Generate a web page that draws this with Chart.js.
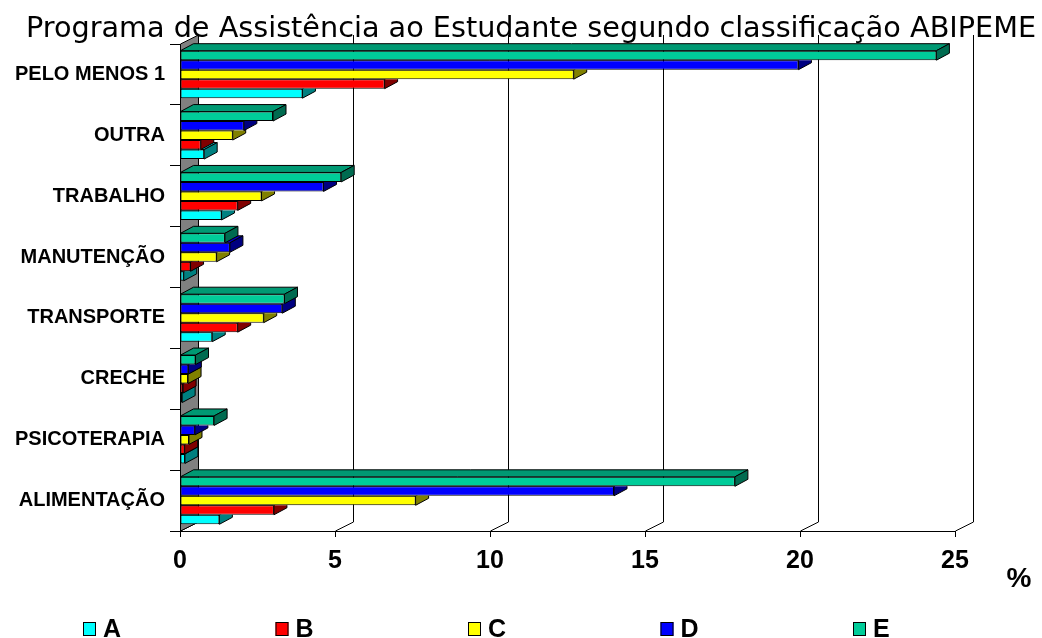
<!DOCTYPE html>
<html>
<head>
<meta charset="utf-8">
<script src="https://cdn.jsdelivr.net/npm/chart.js@4.4.1/dist/chart.umd.min.js"></script>
<style>
  html, body { margin: 0; padding: 0; background: #fff; }
</style>
</head>
<body>
<canvas id="abipemeChart" width="1042" height="638"></canvas>
<script>
// categories from top to bottom, as in the picture
const categories = ['PELO MENOS 1', 'OUTRA', 'TRABALHO', 'MANUTENÇÃO', 'TRANSPORTE', 'CRECHE', 'PSICOTERAPIA', 'ALIMENTAÇÃO'];
const seriesNames = ['A', 'B', 'C', 'D', 'E'];
const valuesA = [3.95, 0.78, 1.34, 0.12, 1.04, 0.07, 0.16, 1.27];
const valuesB = [6.6, 0.67, 1.86, 0.34, 1.86, 0.10, 0.15, 3.03];
const valuesC = [12.7, 1.7, 2.63, 1.18, 2.7, 0.26, 0.29, 7.6];
const valuesD = [19.95, 2.06, 4.63, 1.61, 3.3, 0.27, 0.48, 14.0];
const valuesE = [24.4, 3.0, 5.2, 1.45, 3.37, 0.5, 1.1, 17.9];
const xTicks = [0, 5, 10, 15, 20, 25];
const chartTitle = 'Programa de Assistência ao Estudante segundo classificação ABIPEME';

const frontColors = ['#00FFFF', '#FF0000', '#FFFF00', '#0000FF', '#00CC99'];
const topColors   = ['#00BFBF', '#BF0000', '#BFBF00', '#0000BF', '#009973'];
const sideColors  = ['#008080', '#800000', '#808000', '#000080', '#006B50'];

const seriesValues = [valuesA, valuesB, valuesC, valuesD, valuesE];

// dataset 0 is drawn at the top of each group, so E goes first
const datasets = [];
for (let k = seriesNames.length - 1; k >= 0; k--) {
  datasets.push({
    label: seriesNames[k],
    data: seriesValues[k],
    backgroundColor: frontColors[k],
    borderColor: '#000',
    borderWidth: 1,
    borderSkipped: false,
    topColor: topColors[k],
    sideColor: sideColors[k]
  });
}

const BAR_DX = 13, BAR_DY = -7;    // depth of a bar
const WALL_DX = 18, WALL_DY = -9;  // depth of the box

function poly(ctx, pts, fill) {
  ctx.beginPath();
  ctx.moveTo(pts[0][0], pts[0][1]);
  for (let i = 1; i < pts.length; i++) ctx.lineTo(pts[i][0], pts[i][1]);
  ctx.closePath();
  if (fill) { ctx.fillStyle = fill; ctx.fill(); }
  ctx.strokeStyle = '#000';
  ctx.lineWidth = 1;
  ctx.stroke();
}

const box3d = {
  id: 'box3d',
  beforeDatasetsDraw(chart) {
    const ctx = chart.ctx;
    const a = chart.chartArea;
    const xs = chart.scales.x;
    ctx.save();
    // back wall grid + bottom wall diagonals
    ctx.strokeStyle = '#000';
    ctx.lineWidth = 1;
    xTicks.forEach(v => {
      const px = Math.round(xs.getPixelForValue(v)) + 0.5;
      ctx.beginPath();
      ctx.moveTo(px, a.bottom);
      ctx.lineTo(px + WALL_DX, a.bottom + WALL_DY);
      ctx.lineTo(px + WALL_DX, a.top + WALL_DY);
      ctx.stroke();
    });
    // grey floor on the left
    const l = a.left + 0.5;
    poly(ctx, [[l, a.top], [l, a.bottom], [l + WALL_DX, a.bottom + WALL_DY], [l + WALL_DX, a.top + WALL_DY]], '#808080');
    ctx.restore();
  },
  afterDatasetsDraw(chart) {
    const ctx = chart.ctx;
    const n = chart.data.datasets.length;
    const metas = chart.data.datasets.map((d, i) => chart.getDatasetMeta(i));
    for (let j = 0; j < categories.length; j++) {
      for (let i = n - 1; i >= 0; i--) {
        const ds = chart.data.datasets[i];
        const bar = metas[i].data[j].getProps(['x', 'y', 'base', 'height'], true);
        const top = bar.y - bar.height / 2;
        const bot = bar.y + bar.height / 2;
        ctx.save();
        if (i > 0) {
          // hide what the bar just above covers
          const up = metas[i - 1].data[j].getProps(['x', 'y', 'base', 'height'], true);
          ctx.beginPath();
          ctx.rect(0, 0, chart.width, chart.height);
          ctx.rect(up.base, up.y - up.height / 2, up.x - up.base, up.height);
          ctx.clip('evenodd');
        }
        poly(ctx, [[bar.base, top], [bar.x, top], [bar.x + BAR_DX, top + BAR_DY], [bar.base + BAR_DX, top + BAR_DY]], ds.topColor);
        poly(ctx, [[bar.x, top], [bar.x, bot], [bar.x + BAR_DX, bot + BAR_DY], [bar.x + BAR_DX, top + BAR_DY]], ds.sideColor);
        ctx.restore();
      }
    }
  },
  afterDraw(chart) {
    const ctx = chart.ctx;
    const a = chart.chartArea;
    ctx.save();
    ctx.fillStyle = '#000';
    ctx.textBaseline = 'alphabetic';

    // title sits over the top of the plot, about 1012px wide
    ctx.font = '30px "DejaVu Sans", Verdana, sans-serif';
    const w30 = ctx.measureText(chartTitle).width;
    const size = Math.min(40, 30 * 1012 / w30);
    ctx.font = size.toFixed(1) + 'px "DejaVu Sans", Verdana, sans-serif';
    ctx.textAlign = 'center';
    ctx.fillText(chartTitle, 531, 37);

    ctx.font = 'bold 28px "Liberation Sans", Arial, sans-serif';
    ctx.fillText('%', a.right + 64, a.bottom + 56);

    // legend, A to E from left to right
    ctx.font = 'bold 25px "Liberation Sans", Arial, sans-serif';
    ctx.textAlign = 'left';
    const x0 = a.left - 97;
    const step = 192.5;
    const yBox = chart.height - 16;
    for (let k = 0; k < seriesNames.length; k++) {
      const x = x0 + k * step;
      ctx.fillStyle = frontColors[k];
      ctx.fillRect(x, yBox, 13, 14);
      ctx.strokeStyle = '#000';
      ctx.lineWidth = 1;
      ctx.strokeRect(x + 0.5, yBox + 0.5, 12, 13);
      ctx.fillStyle = '#000';
      ctx.fillText(seriesNames[k], x + 20, chart.height - 1);
    }
    ctx.restore();
  }
};

const ctx = document.getElementById('abipemeChart').getContext('2d');

new Chart(ctx, {
  type: 'bar',
  data: { labels: categories, datasets: datasets },
  options: {
    indexAxis: 'y',
    responsive: false,
    animation: false,
    devicePixelRatio: 1,
    categoryPercentage: 0.78,
    barPercentage: 1.0,
    layout: { padding: { left: 0, right: 87, top: 44, bottom: 53 } },
    plugins: {
      legend: { display: false },
      tooltip: { enabled: false },
      title: { display: false }
    },
    scales: {
      x: {
        min: 0,
        max: 25,
        afterBuildTicks: s => { s.ticks = xTicks.map(v => ({ value: v })); },
        grid: { drawOnChartArea: false, drawTicks: true, tickLength: 6, color: '#000' },
        border: { display: true, color: '#000', width: 1 },
        ticks: {
          color: '#000',
          padding: 9,
          font: { family: '"Liberation Sans", Arial, sans-serif', size: 25, weight: 'bold' }
        }
      },
      y: {
        afterFit: s => { s.width = 180; },
        grid: { drawOnChartArea: false, tickLength: 10, color: '#000' },
        border: { display: true, color: '#000', width: 1 },
        ticks: {
          color: '#000',
          padding: 5,
          font: { family: '"Liberation Sans", Arial, sans-serif', size: 20, weight: 'bold' }
        }
      }
    }
  },
  plugins: [box3d]
});
</script>
</body>
</html>
